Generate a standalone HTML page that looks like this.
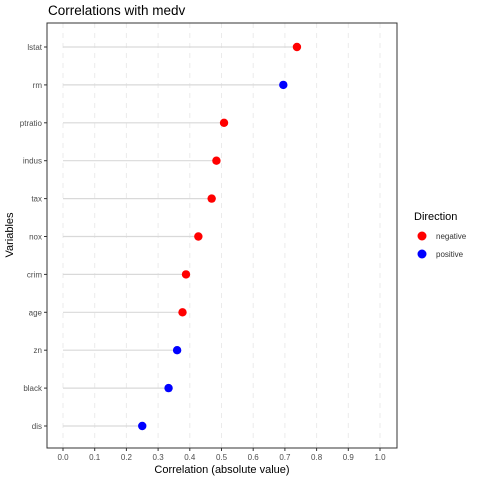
<!DOCTYPE html>
<html><head><meta charset="utf-8"><style>
body{margin:0;background:#fff;font-family:"Liberation Sans",sans-serif}
</style></head><body>
<svg id="c" width="480" height="480" xmlns="http://www.w3.org/2000/svg">
<rect width="480" height="480" fill="#fff"/>
<text x="48" y="15" font-size="13.5" fill="#000">Correlations with medv</text>
<g id="grid"></g>
<g id="marks"></g>
<rect x="47" y="23" width="350" height="425" fill="none" stroke="#333" stroke-width="1"/>
<g id="axes"></g>
<text x="222" y="473" font-size="11" text-anchor="middle" fill="#000">Correlation (absolute value)</text>
<text transform="translate(13,235) rotate(-90)" font-size="11" text-anchor="middle" fill="#000">Variables</text>
<g>
<text x="414" y="220" font-size="11" fill="#000">Direction</text>
<circle cx="422" cy="236" r="4.5" fill="#ff0000"/>
<text x="436" y="239" font-size="8" fill="#333">negative</text>
<circle cx="422" cy="254" r="4.5" fill="#0000ff"/>
<text x="436" y="257" font-size="8" fill="#333">positive</text>
</g>
</svg>
<script>
const categories=["lstat","rm","ptratio","indus","tax","nox","crim","age","zn","black","dis"];
const values=[0.738,0.695,0.508,0.484,0.469,0.427,0.388,0.377,0.360,0.333,0.250];
const directions=["negative","positive","negative","negative","negative","negative","negative","negative","positive","positive","positive"];
const xTicks=[0,0.1,0.2,0.3,0.4,0.5,0.6,0.7,0.8,0.9,1.0];
const NS="http://www.w3.org/2000/svg";
function x(v){return 63+v*317;}
function y(i){return 47+i*(426-47)/(categories.length-1);}
function mk(tag,attrs,parent){const e=document.createElementNS(NS,tag);for(const k in attrs)e.setAttribute(k,attrs[k]);parent.appendChild(e);return e;}
const grid=document.getElementById('grid'),marks=document.getElementById('marks'),axes=document.getElementById('axes');
xTicks.forEach((t,i)=>{
 const g=mk('line',{x1:x(t),x2:x(t),y1:23,y2:448,stroke:'#ebebeb','stroke-dasharray':'5,5','stroke-width':1},grid);
 
 
 const tk=mk('line',{x1:x(t),x2:x(t),y1:448,y2:451,stroke:'#333'},axes);
 
 
 const tl=mk('text',{x:x(t),y:460,'font-size':8,'text-anchor':'middle',fill:'#4d4d4d'},axes);
 tl.textContent=t.toFixed(1);
 
 
});
categories.forEach((c,i)=>{
 const col=directions[i]==='negative'?'#ff0000':'#0000ff';
 const l=mk('line',{x1:x(0),x2:x(values[i]),y1:y(i),y2:y(i),stroke:'#d9d9d9','stroke-width':1.2},marks);
 
 
 const p=mk('circle',{cx:x(values[i]),cy:y(i),r:4.2,fill:col},marks);
 
 
 const tk=mk('line',{x1:44,x2:47,y1:y(i),y2:y(i),stroke:'#333'},axes);
 
 
 const tl=mk('text',{x:42,y:y(i)+3,'font-size':8,'text-anchor':'end',fill:'#4d4d4d'},axes);
 tl.textContent=c;
 
 
});
</script>
</body></html>
